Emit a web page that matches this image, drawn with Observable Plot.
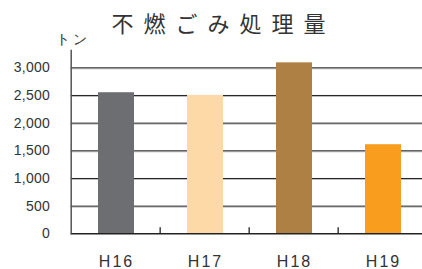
<!DOCTYPE html>
<html><head><meta charset="utf-8">
<script src="https://cdn.jsdelivr.net/npm/d3@7"></script>
<script src="https://cdn.jsdelivr.net/npm/@observablehq/plot@0.6"></script>
<style>
body{margin:0;background:#fff;}
#wrap{position:relative;width:422px;height:269px;overflow:hidden;}
#chart svg{max-width:none !important;display:block;}
#title{position:absolute;top:11px;left:0;width:447px;text-align:center;font-family:"Noto Sans CJK JP",sans-serif;font-size:22px;line-height:1;letter-spacing:10px;color:#333;white-space:nowrap;z-index:2;}
#chart g[aria-label="x-axis tick label"] text{letter-spacing:2px;}
#chart g[aria-label="y-axis tick label"] text{letter-spacing:0.3px;}
#chart g[aria-label="text"] text{letter-spacing:3px;}
</style>
</head><body>
<div id="wrap"><div id="title">不燃ごみ処理量</div><div id="chart"></div></div>
<script>
const categories = ["H16","H17","H18","H19"];
const values = [2550, 2500, 3090, 1610];
const colors = ["#6d6e71","#fed9a8","#af8043","#f99d1e"];
const yTicks = [0,500,1000,1500,2000,2500,3000];
const unitLabel = "トン";

const data = categories.map((c,i)=>({cat:c, value:values[i]}));
const W = 428, ML = 70.7, MT = 50, MB = 35.7, H = 269;
const step = (W - ML)/categories.length;
const frameH = H - MT - MB;

const chart = Plot.plot({
  width: W, height: H,
  marginLeft: ML, marginRight: 0, marginTop: MT, marginBottom: MB,
  style: {fontFamily: "'Liberation Sans', Arial, sans-serif", color: "#333", overflow: "visible", maxWidth: "none"},
  x: {domain: categories, paddingInner: 0.6, paddingOuter: 0.3, axis: null, label: null},
  y: {domain: [0, 3313], axis: null, label: null},
  color: {domain: categories, range: colors},
  marks: [
    Plot.ruleY(yTicks.slice(1), {stroke: "#bbb", strokeWidth: 1, dy: 1}),
    Plot.ruleY(yTicks.slice(1), {stroke: "#222", strokeWidth: 1}),
    Plot.barY(data, {x: "cat", y: "value", fill: "cat"}),
    Plot.ruleY([0], {stroke: "#222", strokeWidth: 1.5}),
    Plot.tickX(categories.slice(0,-1), {x: d=>d, dx: step/2 - 1, insetTop: frameH - 6, stroke: "#222", strokeWidth: 1.3}),
    Plot.frame({anchor: "left", stroke: "#555", strokeWidth: 1.5}),
    Plot.axisY(yTicks, {tickSize: 0, tickPadding: 21, fontSize: 14, tickFormat: d3.format(","), fill: "#333", label: null}),
    Plot.axisX({tickSize: 0, tickPadding: 22, fontSize: 16, fill: "#333", label: null}),
    Plot.text([unitLabel], {frameAnchor: "top-left", text: d=>d, dx: -15, dy: -7, textAnchor: "start", lineAnchor: "bottom", fontSize: 14, fill: "#333"})
  ]
});
document.getElementById("chart").appendChild(chart);
</script>
</body></html>
